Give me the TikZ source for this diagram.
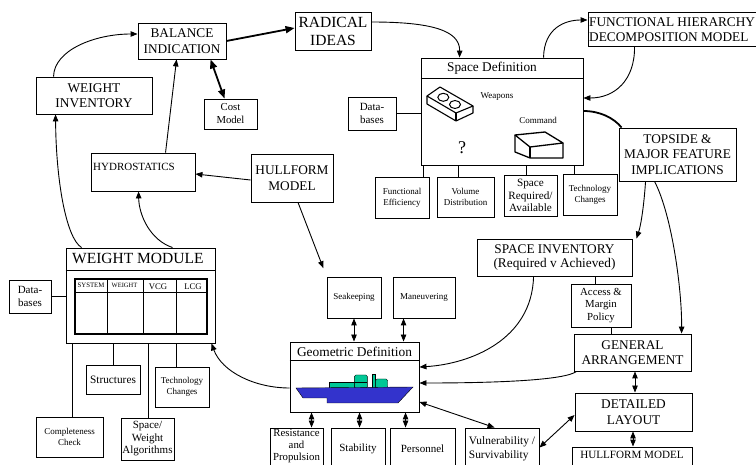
\documentclass[tikz,border=0pt]{standalone}
\usepackage{fontspec}
\setmainfont{Liberation Serif}
\usetikzlibrary{arrows.meta,calc}
\newcommand{\fsz}[2]{\fontsize{#1}{#2}\selectfont}
\definecolor{hullblue}{RGB}{51,51,204}
\definecolor{supgreen}{RGB}{0,200,150}
\begin{document}
\begin{tikzpicture}[x=1pt,y=-1pt,
  box/.style={draw,line width=0.9pt,inner sep=0pt,align=center},
  lbl/.style={inner sep=0pt,align=center},
  fA/.style={font=\fsz{13.3}{15.5}},
  fR/.style={font=\fsz{15.5}{18}},
  fM/.style={font=\fsz{11}{12.8}},
  fS/.style={font=\fsz{9}{11}},
  ln/.style={line width=0.9pt},
  arr/.style={line width=0.9pt,-{Triangle[length=7pt,width=5.5pt]}},
  darr/.style={line width=0.9pt,{Triangle[length=7pt,width=5.5pt]}-{Triangle[length=7pt,width=5.5pt]}},
  tarr/.style={line width=1.8pt,-{Triangle[length=9pt,width=7pt]}},
  tdarr/.style={line width=1.8pt,{Triangle[length=9pt,width=7pt]}-{Triangle[length=9pt,width=7pt]}},
  thk/.style={line width=1.8pt},
]
\useasboundingbox (0,0) rectangle (756,465);

% ---------- top-left ----------
\node[box,fA,minimum width=88,minimum height=36] (balance) at (182,41) {BALANCE\\INDICATION};
\node[box,fR,minimum width=76,minimum height=38] (radical) at (333,31) {RADICAL\\IDEAS};
\node[box,font=\fsz{13.4}{14.5},minimum width=116,minimum height=37] (winv) at (94,95.5) {WEIGHT\\INVENTORY};
\node[box,font=\fsz{10.7}{13},minimum width=53,minimum height=30] (cost) at (230.5,114) {Cost\\Model};
\node[box,minimum width=104,minimum height=38] (hydro) at (143,172) {};
\node[lbl,font=\fsz{11}{13},anchor=base west] (hydrotxt) at (93,171) {HYDROSTATICS};
\node[box,fA,minimum width=82,minimum height=48] (hullform) at (292,178) {HULLFORM\\MODEL};

% ---------- space definition ----------
\node[box,fM,minimum width=48,minimum height=33] (db1) at (372,113.5) {Data-\\bases};
\node[box,minimum width=174,minimum height=34] (fhd) at (675,29) {};
\node[lbl,fA,align=left,anchor=west] (fhdtxt) at (589,29.5) {FUNCTIONAL HIERARCHY\\DECOMPOSITION MODEL};
\node[box,minimum width=162,minimum height=107] (spacedef) at (502,111.5) {};
\draw[line width=1.5pt] ($(spacedef.north west)+(0,21)$) -- ($(spacedef.north east)+(0,21)$);
\node[lbl,fA] (sdtitle) at (492,68) {Space Definition};
% weapons brick
\draw[line width=1.1pt,line join=round] (427,96) -- (440,87) -- (473,106) -- (456,113) -- cycle;
\draw[line width=1.1pt,line join=round] (427,96) -- (427,104) -- (456,121) -- (473,113) -- (473,106);
\draw[line width=1.1pt] (456,113) -- (456,121);
\draw[line width=1pt] (443.3,97.3) ellipse [x radius=5.5,y radius=4];
\draw[line width=1pt] (455,104.5) ellipse [x radius=5.5,y radius=4];
\node[lbl,fS] (weap) at (497,97) {Weapons};
% command box
\draw[line width=1.3pt,line join=round] (515,135) -- (545,132) -- (563,143) -- (530,147) -- cycle;
\draw[line width=1.3pt,line join=round] (515,135) -- (515,152) -- (530,158) -- (563,158) -- (563,143);
\draw[line width=1.3pt] (530,147) -- (530,158);
\node[lbl,fS] (cmd) at (538,120) {Command};
\node[lbl,font=\fsz{18}{20}] (qm) at (462,148) {?};

\node[box,fS,minimum width=54,minimum height=41] (fe) at (402,197.5) {Functional\\Efficiency};
\node[box,fS,minimum width=57,minimum height=40] (vd) at (465.5,197) {Volume\\Distribution};
\node[box,font=\fsz{11.2}{12.5},minimum width=53,minimum height=41] (sra) at (530.5,195.5) {Space\\Required/\\Available};
\node[box,fS,minimum width=54,minimum height=41] (tc1) at (590,194.5) {Technology\\Changes};
\node[box,fA,minimum width=117,minimum height=53] (topside) at (677.5,154.5) {TOPSIDE \&\\MAJOR FEATURE\\IMPLICATIONS};

% ---------- right column ----------
\node[box,font=\fsz{13.3}{14},minimum width=155,minimum height=37] (spinv) at (554.5,257.5) {SPACE INVENTORY\\(Required v Achieved)};
\node[box,font=\fsz{10.8}{12.5},minimum width=60,minimum height=43] (access) at (601,305.5) {Access \&\\Margin\\Policy};
\node[box,fA,minimum width=117,minimum height=37] (ga) at (632.5,352.5) {GENERAL\\ARRANGEMENT};
\node[box,fA,minimum width=117,minimum height=38] (dl) at (633.5,412) {DETAILED\\LAYOUT};
\node[box,minimum width=120,minimum height=23] (hm2) at (632,458.5) {};
\node[lbl,font=\fsz{11.1}{13}] (hm2txt) at (632,455) {HULLFORM MODEL};

% ---------- geometric definition ----------
\node[box,fS,minimum width=54,minimum height=41] (seakeep) at (354,297.5) {Seakeeping};
\node[box,fS,minimum width=62,minimum height=41] (maneuv) at (424,297.5) {Maneuvering};
\node[box,minimum width=129,minimum height=70] (geo) at (354.5,377) {};
\draw[ln] ($(geo.north west)+(0,19)$) -- ($(geo.north east)+(0,19)$);
\node[lbl,font=\fsz{13.4}{15}] (geotitle) at (354.5,351.5) {Geometric Definition};
% ship
\fill[supgreen,draw=black,line width=0.4pt] (329.3,382.7) rectangle (354.3,388.3);
\fill[supgreen,draw=black,line width=0.4pt,rounded corners=1.5pt] (354.3,388.3) -- (354.3,375) -- (367.3,375) -- (367.3,388.3) -- cycle;
\draw[line width=0.4pt] (354.3,382.7) -- (367.3,382.7);
\fill[supgreen,draw=black,line width=0.4pt] (371.7,374.3) rectangle (375,388.3);
\fill[supgreen,draw=black,line width=0.4pt,rounded corners=1.5pt] (375.7,388.3) -- (375.7,379) -- (387.7,379) -- (387.7,388.3) -- cycle;
\fill[hullblue,draw=black,line width=0.4pt] (296,388) -- (413,387) -- (398,403) -- (327,403) -- (327,398) -- (303,398) -- cycle;

\node[box,minimum width=53,minimum height=42] (resist) at (296.5,449) {};
\node[lbl,font=\fsz{10.8}{12.2}] (resisttxt) at (296.5,446) {Resistance\\and\\Propulsion};
\node[box,fM,minimum width=54,minimum height=42] (stab) at (358,449) {Stability};
\node[box,fM,minimum width=65,minimum height=42] (pers) at (422.5,449) {Personnel};
\node[box,font=\fsz{11.4}{14},align=left,minimum width=74,minimum height=42] (vuln) at (502,449) {Vulnerability /\\Survivability};

% ---------- weight module ----------
\node[box,minimum width=149,minimum height=95] (wm) at (140.5,295.5) {};
\draw[line width=1.3pt] ($(wm.north west)+(0,23)$) -- ($(wm.north east)+(0,23)$);
\node[lbl,font=\fsz{15.5}{17},anchor=base west] (wmtitle) at (72,264) {WEIGHT MODULE};
\draw[line width=1.1pt] (75,279) rectangle (207,334);
\draw[ln] (75,292) -- (207,292);
\draw[ln] (107,279) -- (107,334) (143,279) -- (143,334) (176,279) -- (176,334);
\node[lbl,font=\fsz{6.8}{8}] (hsys) at (91,285) {SYSTEM};
\node[lbl,font=\fsz{6.5}{8}] (hwt) at (124.5,285) {WEIGHT};
\node[lbl,font=\fsz{8.7}{10}] (hvcg) at (158,287) {VCG};
\node[lbl,font=\fsz{8.7}{10}] (hlcg) at (193,287) {LCG};
\node[box,fM,minimum width=42,minimum height=33] (db2) at (30,296.5) {Data-\\bases};
\node[box,font=\fsz{11.3}{13},minimum width=54,minimum height=29] (struct) at (113,379.5) {Structures};
\node[box,fS,minimum width=54,minimum height=40] (tc2) at (182,387) {Technology\\Changes};
\node[box,fS,minimum width=67,minimum height=40] (cc) at (69.5,437) {Completeness\\Check};
\node[box,font=\fsz{11}{12.5},minimum width=53,minimum height=42] (swa) at (147.5,439) {Space/\\Weight\\Algorithms};

% ---------- connectors ----------
\draw[arr] ($(winv.north west)+(18,0)$) .. controls (54,50) and (95,34) .. ($(balance.west)+(0,-7)$);
\draw[arr] ($(wm.north west)+(16,0)$) .. controls (66,238) and (56,180) .. ($(winv.south west)+(20,0)$);
\draw[arr] ($(wm.north west)+(107,0)$) .. controls (150,240) and (139,215) .. ($(hydro.south west)+(48,0)$);
\draw[arr] ($(hydro.north west)+(75,0)$) -- ($(balance.south west)+(39,0)$);
\draw[tdarr] ($(balance.south west)+(73,0)$) -- ($(cost.north west)+(21,0)$);
\draw[tarr] (balance.east) -- ($(radical.west)+(0,-3)$);
\draw[arr] ($(hullform.west)+(0,2)$) -- ($(hydro.east)+(0,2)$);
\draw[arr,shorten >=9pt] ($(hullform.south)+(6,0)$) -- (seakeep.north west);
\draw[arr] ($(radical.east)+(0,-9)$) .. controls (430,22) and (460,30) .. ($(spacedef.north west)+(39,0)$);
\draw[arr] ($(spacedef.north west)+(123,0)$) .. controls (544,28) and (565,20) .. ($(fhd.west)+(0,-9)$);
\draw[arr] ($(fhd.south west)+(47,0)$) .. controls (635,80) and (615,98) .. ($(spacedef.east)+(0,-13.5)$);
\draw[thk] ($(spacedef.east)+(0,-0.5)$) .. controls (600,111) and (614,118) .. ($(topside.north west)+(3,0)$);
\draw[arr] ($(topside.south west)+(27,0)$) .. controls (644,205) and (641,225) .. ($(spinv.north east)+(4,0)$);
\draw[arr] ($(topside.south west)+(36,0)$) .. controls (672,215) and (682,290) .. ($(ga.north west)+(108,0)$);
\draw[arr] ($(spinv.south west)+(57,0)$) .. controls (532,340) and (470,364) .. ($(geo.east)+(0,-10)$);
\draw[arr] ($(ga.south west)+(3,0)$) .. controls (565,380) and (500,383) .. ($(geo.east)+(0,6)$);
\draw[darr] ($(geo.east)+(0,25)$) -- ($(vuln.north west)+(30,0)$);
\draw[darr] ($(vuln.north east)+(0,20)$) -- ($(dl.west)+(0,3)$);
\draw[darr] ($(ga.south)+(2.5,0)$) -- ($(dl.north)+(1.5,0)$);
\draw[darr] ($(dl.south)+(-0.5,0)$) -- ($(hm2.north)+(1,0)$);
\draw[darr] (seakeep.south) -- (seakeep.south |- geo.north);
\draw[darr] ($(maneuv.south west)+(11,0)$) -- ($(geo.north west)+(114,0)$);
\draw[darr] ($(geo.south west)+(22,0)$) -- ($(resist.north west)+(42,0)$);
\draw[darr] ($(geo.south west)+(70,0)$) -- ($(stab.north west)+(29,0)$);
\draw[darr] ($(geo.south west)+(116,0)$) -- ($(pers.north west)+(16,0)$);
\draw[arr] ($(geo.west)+(0,11)$) .. controls (255,388) and (222,372) .. ($(wm.south east)+(-4,0)$);
\draw[ln] ($(spinv.south west)+(119,0)$) -- ($(access.north west)+(25,0)$);
\draw[ln] ($(access.south west)+(41,0)$) -- ($(ga.north west)+(38,0)$);
\draw[ln] (db1.east) -- (db1.east -| spacedef.west);
\draw[ln] (db2.east) -- (db2.east -| wm.west);
\draw[ln] ($(fe.north west)+(49,0)$) -- ++(0,-12);
\draw[ln] ($(vd.north west)+(22,0)$) -- ++(0,-12);
\draw[ln] ($(sra.north west)+(23,0)$) -- ++(0,-10);
\draw[ln] ($(tc1.north west)+(12,0)$) -- ++(0,-9);
\draw[ln] ($(cc.north west)+(37,0)$) -- ++(0,-74);
\draw[ln] ($(swa.north west)+(28,0)$) -- ++(0,-75);
\draw[ln] ($(struct.north west)+(28,0)$) -- ++(0,-22);
\draw[ln] ($(tc2.north west)+(22,0)$) -- ++(0,-24);
\end{tikzpicture}
\end{document}
